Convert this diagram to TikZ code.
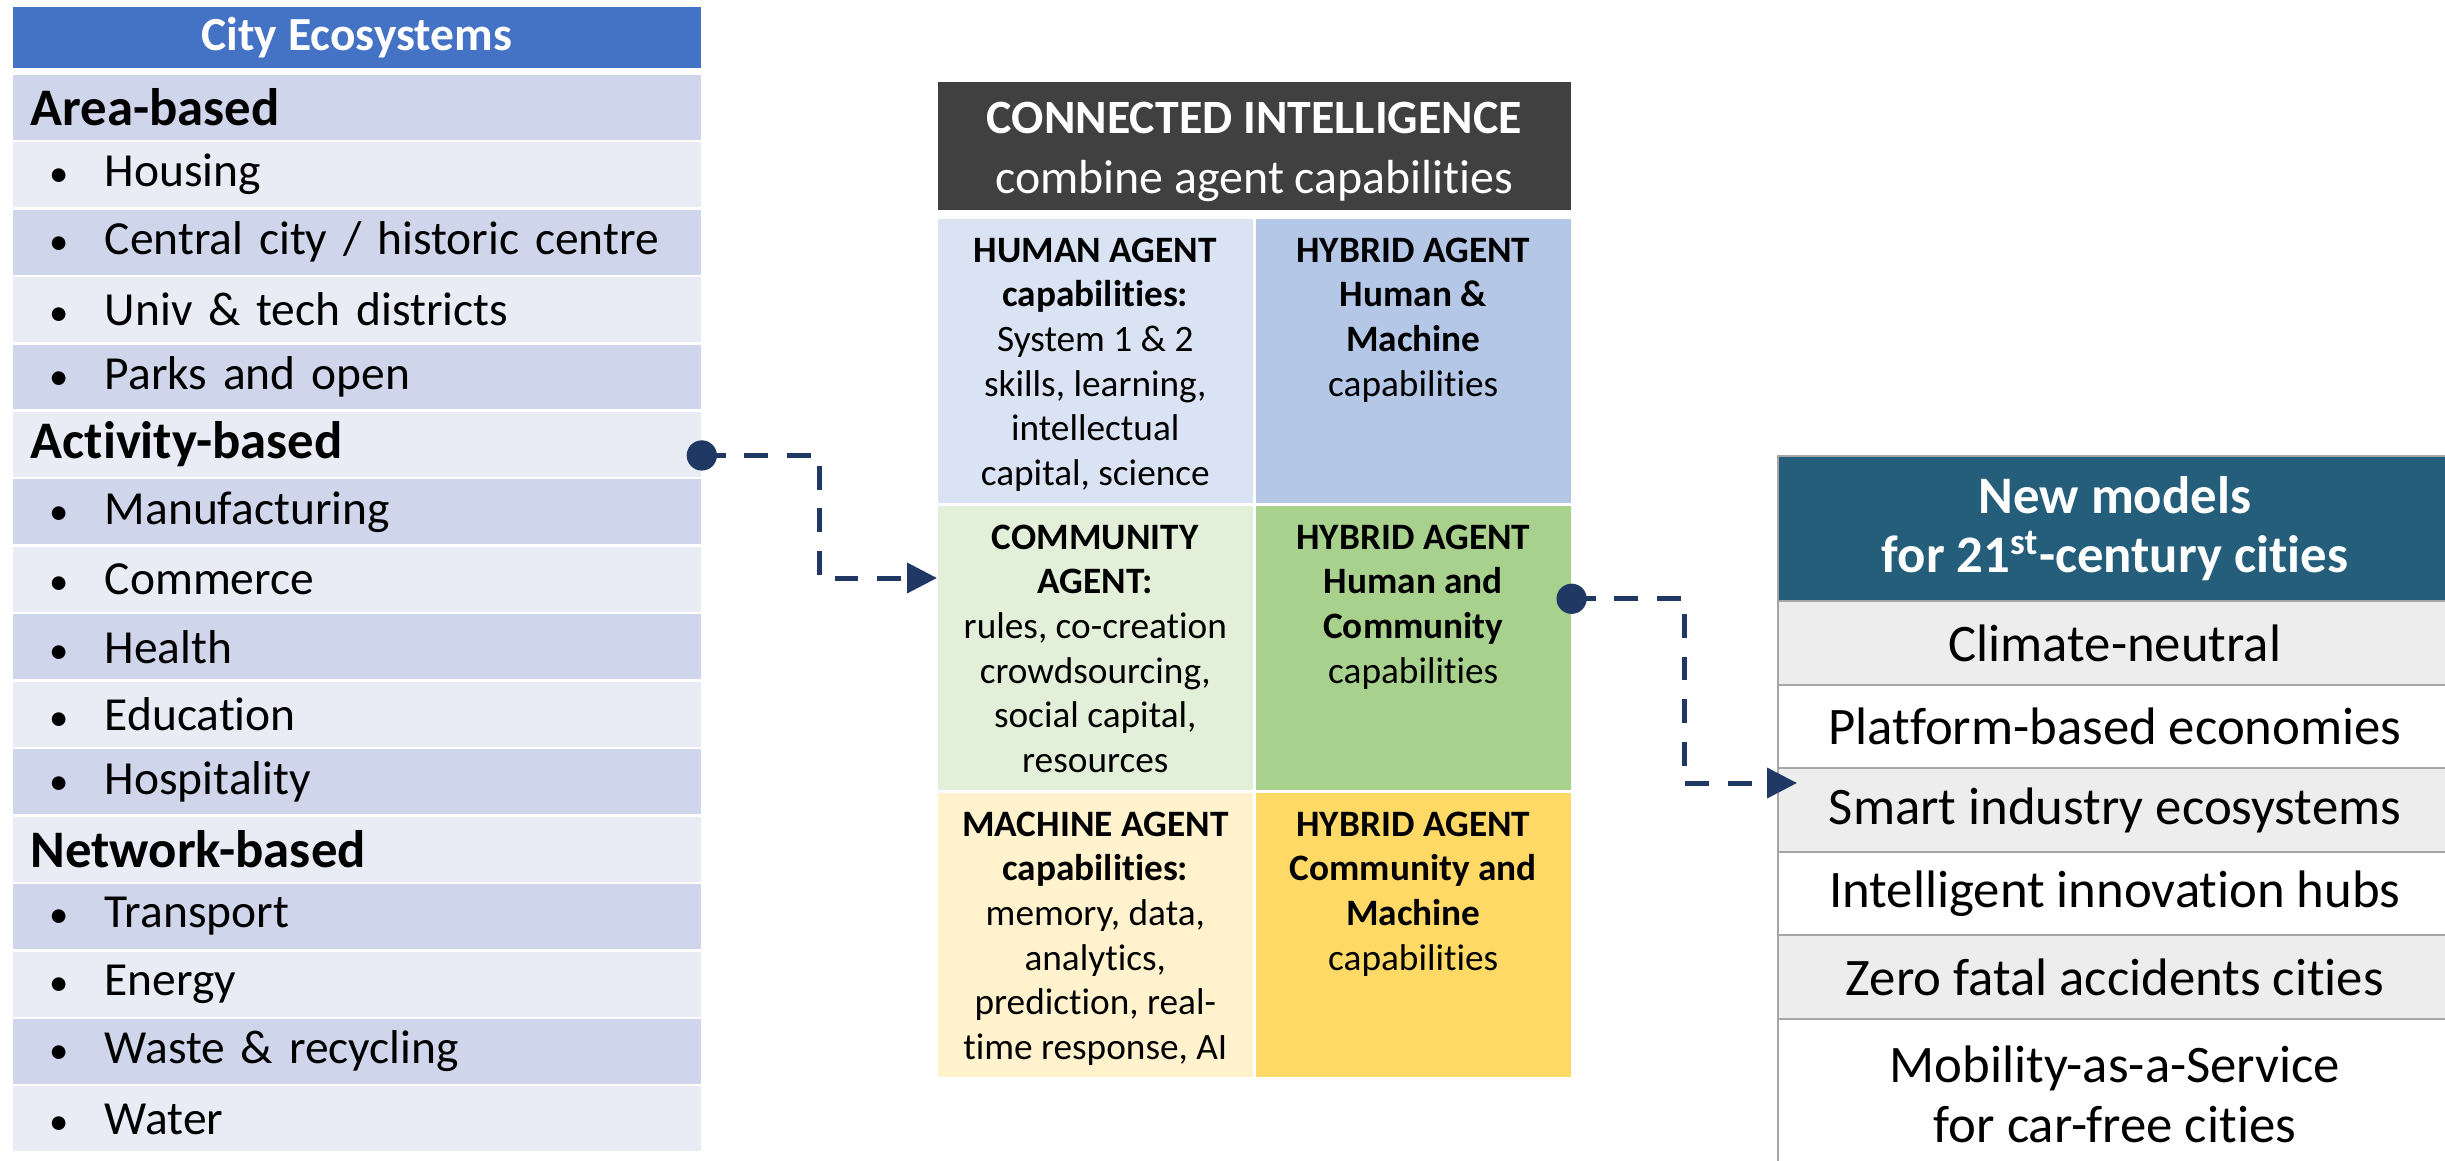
\documentclass[tikz,border=0pt]{standalone}
\usepackage{fontspec}
\setmainfont{Carlito}[Ligatures=NoCommon]
\newfontfamily\ecofont{Carlito}[Ligatures=NoCommon, WordSpace=0.75]
\usetikzlibrary{arrows.meta,calc}

\definecolor{ecoblue}{HTML}{4472C4}
\definecolor{rowdark}{HTML}{CFD5EA}
\definecolor{rowlight}{HTML}{E9EBF5}
\definecolor{cihead}{HTML}{404040}
\definecolor{humbg}{HTML}{DAE3F3}
\definecolor{hybbluebg}{HTML}{B4C7E7}
\definecolor{combg}{HTML}{E2F0D9}
\definecolor{hybgreenbg}{HTML}{A9D18E}
\definecolor{macbg}{HTML}{FFF2CC}
\definecolor{hybyellowbg}{HTML}{FFD966}
\definecolor{modelhead}{HTML}{255E7A}
\definecolor{modelgray}{HTML}{EDEDED}
\definecolor{modelline}{HTML}{A6A6A6}
\definecolor{linknavy}{HTML}{1F3864}

\newcommand{\bul}[1]{\makebox[0.74cm][l]{\hspace{0.19cm}{\fontsize{11}{13}\selectfont\textbullet}}#1}

\tikzset{
	ecorow/.style={anchor=north west, inner xsep=0.18cm, inner ysep=0pt, text width=6.52cm, minimum height=0.649cm, align=left},
	rowhead/.style={ecorow, font=\fontsize{15}{17}\selectfont\bfseries},
	rowitem/.style={ecorow, font=\ecofont\fontsize{13.5}{16}\selectfont},
	cell/.style={anchor=north west, minimum width=3.15cm, minimum height=2.84cm, inner sep=0pt},
	celltxt/.style={anchor=north, inner sep=0pt, align=center, font=\fontsize{10.6}{12.7}\selectfont},
	model/.style={anchor=north west, draw=modelline, line width=0.7pt, minimum width=6.73cm, minimum height=0.835cm, inner sep=0pt, align=center, font=\fontsize{15}{17}\selectfont},
	link/.style={linknavy, line width=1.42pt, dash pattern=on 6.8pt off 5.3pt, -{Triangle[length=8.5pt,width=8.4pt]}},
}

\begin{document}
\begin{tikzpicture}[x=0.01cm, y=-0.01cm]
	%%%%% START %%%%%
	\clip (0,0) rectangle (2445,1160);
	\fill[white] (0,0) rectangle (2445,1160);
	
	% city ecosystems
	\node[anchor=north west, fill=ecoblue, minimum width=6.88cm, minimum height=0.61cm, inner sep=0pt, text=white, font=\fontsize{13.5}{16}\selectfont\bfseries] (eco) at (12,6) {City Ecosystems};
	
	\node[rowhead, fill=rowdark] (area) at (12,74) {Area-based};
	\node[rowitem, fill=rowlight] (hous) at (12,141.45) {\bul{Housing}};
	\node[rowitem, fill=rowdark] (cent) at (12,208.9) {\bul{Central city / historic centre}};
	\node[rowitem, fill=rowlight] (univ) at (12,276.35) {\bul{Univ \& tech districts}};
	\node[rowitem, fill=rowdark] (park) at (12,343.8) {\bul{Parks and open}};
	\node[rowhead, fill=rowlight] (act) at (12,411.25) {Activity-based};
	\node[rowitem, fill=rowdark] (manu) at (12,478.7) {\bul{Manufacturing}};
	\node[rowitem, fill=rowlight] (comm) at (12,546.15) {\bul{Commerce}};
	\node[rowitem, fill=rowdark] (heal) at (12,613.6) {\bul{Health}};
	\node[rowitem, fill=rowlight] (educ) at (12,681.05) {\bul{Education}};
	\node[rowitem, fill=rowdark] (hosp) at (12,748.5) {\bul{Hospitality}};
	\node[rowhead, fill=rowlight] (net) at (12,815.95) {Network-based};
	\node[rowitem, fill=rowdark] (tran) at (12,883.4) {\bul{Transport}};
	\node[rowitem, fill=rowlight] (ener) at (12,950.85) {\bul{Energy}};
	\node[rowitem, fill=rowdark] (wast) at (12,1018.3) {\bul{Waste \& recycling}};
	\node[rowitem, fill=rowlight] (watr) at (12,1085.75) {\bul{Water}};
	
	% connected intelligence
	\node[anchor=north west, fill=cihead, minimum width=6.33cm, minimum height=1.28cm, inner sep=0pt] (ci) at (937,81) {};
	\node[inner sep=0pt, text=white, align=center, font=\fontsize{13.6}{17}\selectfont] (citxt) at ([yshift=-0.06cm]ci.center) {\textbf{CONNECTED INTELLIGENCE}\\combine agent capabilities};
	
	\node[cell, fill=humbg] (hum) at (937,218) {};
	\node[cell, fill=hybbluebg] (hyb) at (1255,218) {};
	\node[cell, fill=combg] (com) at (937,505) {};
	\node[cell, fill=hybgreenbg] (hyc) at (1255,505) {};
	\node[cell, fill=macbg] (mac) at (937,792) {};
	\node[cell, fill=hybyellowbg] (hym) at (1255,792) {};
	
	\node[celltxt] (humtxt) at ([yshift=-0.19cm]hum.north) {\textbf{HUMAN AGENT}\\\textbf{capabilities:}\\System 1 \& 2\\skills, learning,\\intellectual\\capital, science};
	\node[celltxt] (hybtxt) at ([yshift=-0.19cm]hyb.north) {\textbf{HYBRID AGENT}\\\textbf{Human \&}\\\textbf{Machine}\\capabilities};
	\node[celltxt] (comtxt) at ([yshift=-0.19cm]com.north) {\textbf{COMMUNITY}\\\textbf{AGENT:}\\rules, co-creation\\crowdsourcing,\\social capital,\\resources};
	\node[celltxt] (hyctxt) at ([yshift=-0.19cm]hyc.north) {\textbf{HYBRID AGENT}\\\textbf{Human and}\\\textbf{Community}\\capabilities};
	\node[celltxt] (mactxt) at ([yshift=-0.19cm]mac.north) {\textbf{MACHINE AGENT}\\\textbf{capabilities:}\\memory, data,\\analytics,\\prediction, real-\\time response, AI};
	\node[celltxt] (hymtxt) at ([yshift=-0.19cm]hym.north) {\textbf{HYBRID AGENT}\\\textbf{Community and}\\\textbf{Machine}\\capabilities};
	
	% new models
	\node[model, fill=modelhead, minimum height=1.45cm, text=white, font=\fontsize{15}{16.8}\selectfont\bfseries] (nm) at (1777,455) {New models\\for 21\textsuperscript{st}-century cities};
	\node[model, fill=modelgray] (clim) at (1777,600) {Climate-neutral};
	\node[model, fill=white] (plat) at (1777,683.5) {Platform-based economies};
	\node[model, fill=modelgray] (smart) at (1777,767) {Smart industry ecosystems};
	\node[model, fill=white] (intel) at (1777,850.5) {Intelligent innovation hubs};
	\node[model, fill=modelgray] (zero) at (1777,934) {Zero fatal accidents cities};
	\node[model, fill=white, minimum height=1.51cm] (maas) at (1777,1017.5) {Mobility-as-a-Service\\for car-free cities};
	
	% links
	\coordinate (k1) at (819,578);
	\coordinate (k2) at (1684,783);
	\fill[linknavy] ([yshift=-0.11cm]act.east) coordinate (d1) circle (4.3pt);
	\draw[link] (d1) -| (k1) -- (com.west |- k1);
	\fill[linknavy] ([yshift=0.49cm]hyc.east) coordinate (d2) circle (4.3pt);
	\draw[link] (d2) -| (k2) -- ($(smart.west |- k2)+(0.2cm,0)$);
	
	%%%%% END %%%%%
\end{tikzpicture}
\end{document}
